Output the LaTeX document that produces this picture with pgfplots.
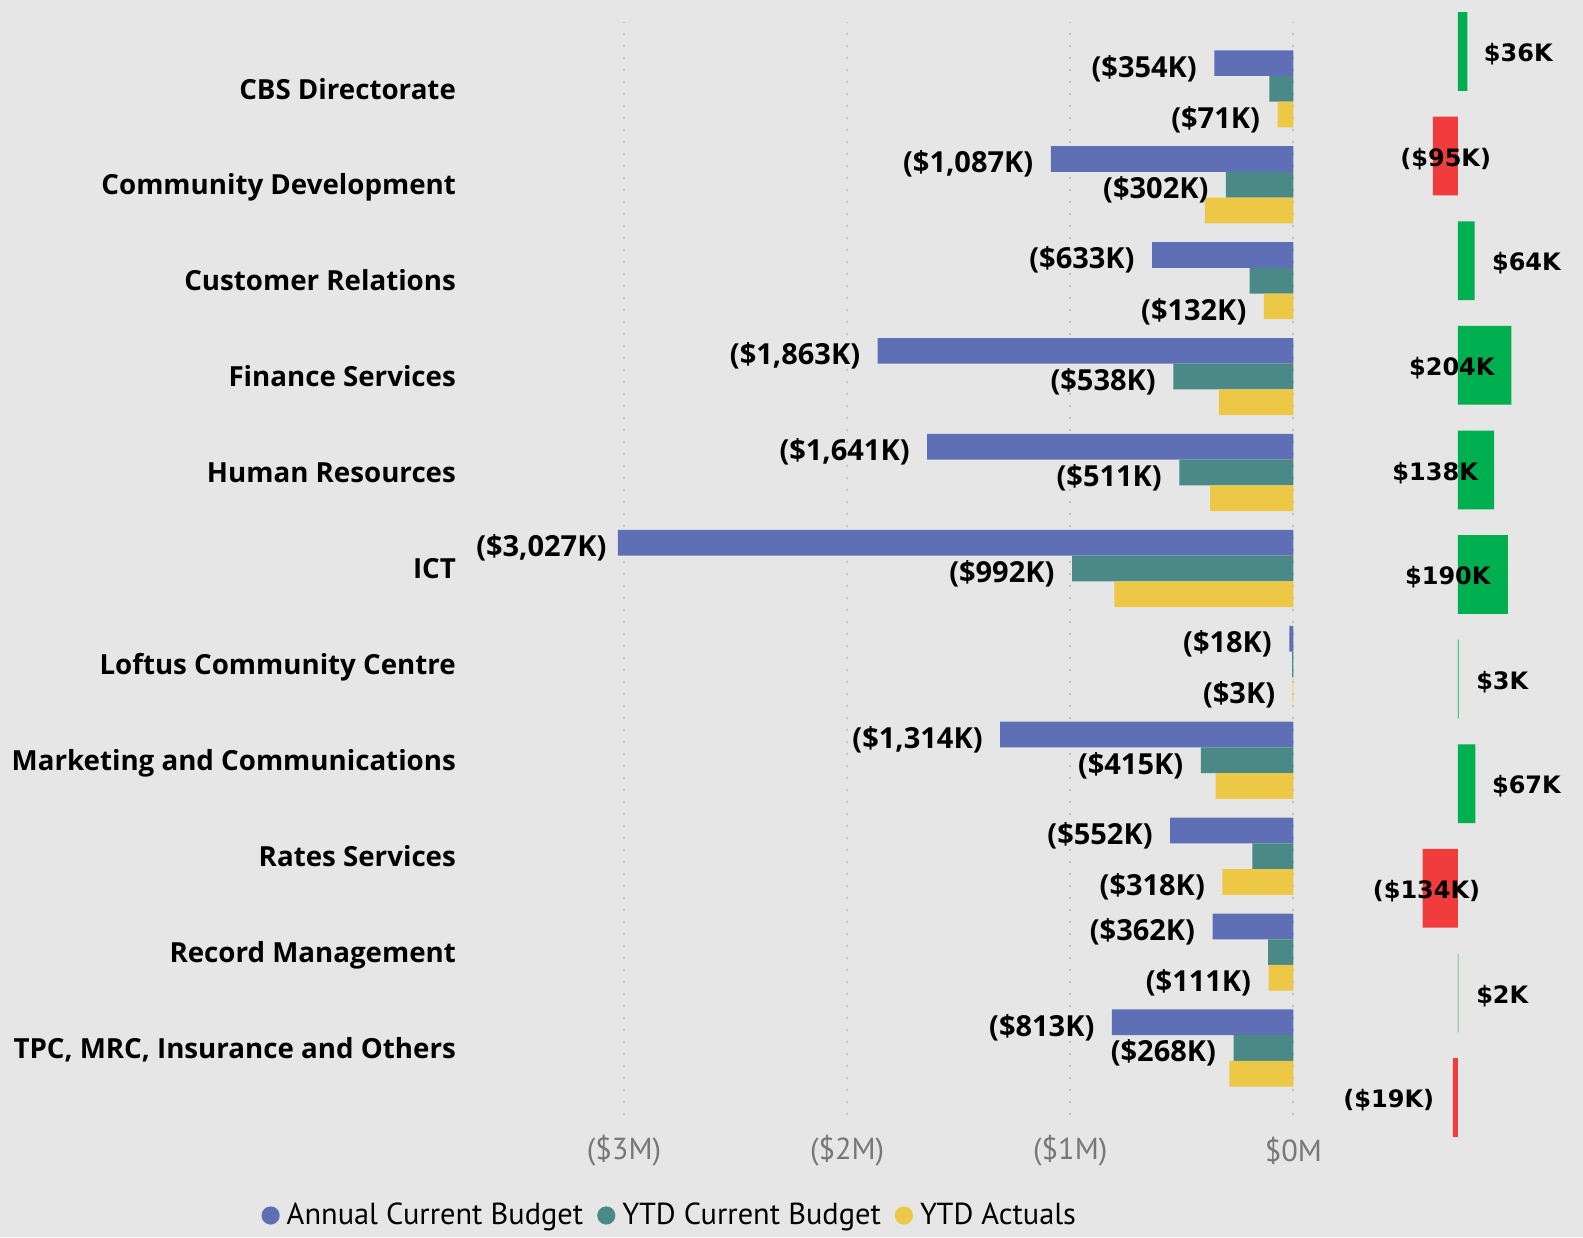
\documentclass[border=0pt]{standalone}
\usepackage{fontspec}
\setmainfont{Open Sans}
\newfontfamily\dejavu{DejaVu Sans}
\newfontfamily\ptsans{PT Sans}
\usepackage{pgfplots}
\pgfplotsset{compat=1.18}
\definecolor{bgc}{HTML}{E6E6E6}
\definecolor{cblue}{HTML}{5F6FB5}
\definecolor{cteal}{HTML}{4A8985}
\definecolor{cyel}{HTML}{ECC846}
\definecolor{cgreen}{HTML}{00B050}
\definecolor{cred}{HTML}{F03C3C}
\definecolor{tickc}{HTML}{777777}
\definecolor{gridc}{HTML}{C4C4C4}
\begin{document}
\begin{tikzpicture}
\fill[bgc] (0,0) rectangle (791.5pt,618.5pt);
\begin{axis}[
  at={(233.9pt,60.9pt)}, anchor=south west,
  scale only axis, width=418.35pt, height=546.75pt,
  xbar, bar width=0.268,
  xmin=-3.7, xmax=0.05, ymin=-0.7, ymax=10.7,
  xtick={-3,-2,-1,0}, xticklabels={(\$3M),(\$2M),(\$1M),\$0M},
  ytick={0,...,10},
  yticklabels={{TPC, MRC, Insurance and Others},Record Management,Rates Services,Marketing and Communications,Loftus Community Centre,ICT,Human Resources,Finance Services,Customer Relations,Community Development,CBS Directorate},
  axis line style={draw=none}, major tick length=0pt,
  xmajorgrids, grid style={gridc, line width=1pt, dash pattern=on 1pt off 5pt},
  yticklabel style={anchor=base east, inner sep=0pt, xshift=-5.75pt, yshift=-5.1pt, font=\fontsize{13.85}{16}\selectfont\bfseries},
  xticklabel style={anchor=center, inner sep=0pt, yshift=-17.9pt, font=\ptsans\fontsize{15.2}{17}\selectfont, text=tickc},
  legend style={at={(rel axis cs:-0.247,-0.0917)}, anchor=west, draw=none, fill=none, inner sep=0pt,
    legend columns=-1, font=\ptsans\fontsize{15.2}{17}\selectfont,
    /tikz/every even column/.append style={column sep=5pt},
    /tikz/every odd column/.append style={column sep=1.5pt}},
  legend cell align=left,
  clip=false,
]
\addplot[fill=cblue, draw=none, bar shift=0.268, legend image code/.code={\fill[cblue] (0pt,0pt) circle (4.55pt);}] coordinates {
(-0.354,10) (-1.087,9) (-0.633,8) (-1.863,7) (-1.641,6) (-3.027,5) (-0.018,4) (-1.314,3) (-0.552,2) (-0.362,1) (-0.813,0)};
\addlegendentry{Annual Current Budget}
\addplot[fill=cteal, draw=none, bar shift=0, legend image code/.code={\fill[cteal] (0pt,0pt) circle (4.55pt);}] coordinates {
(-0.107,10) (-0.302,9) (-0.196,8) (-0.538,7) (-0.511,6) (-0.992,5) (-0.006,4) (-0.415,3) (-0.184,2) (-0.113,1) (-0.268,0)};
\addlegendentry{YTD Current Budget}
\addplot[fill=cyel, draw=none, bar shift=-0.268, legend image code/.code={\fill[cyel] (0pt,0pt) circle (4.55pt);}] coordinates {
(-0.071,10) (-0.397,9) (-0.132,8) (-0.334,7) (-0.373,6) (-0.802,5) (-0.003,4) (-0.348,3) (-0.318,2) (-0.111,1) (-0.287,0)};
\addlegendentry{YTD Actuals}
\begin{scope}[every node/.style={anchor=base east, inner sep=0pt, xshift=-8.6pt, yshift=-6.95pt, font=\fontsize{14.5}{16}\selectfont\bfseries}]
\node at (axis cs:-0.354,10.268) {(\$354K)};
\node at (axis cs:-0.071,9.732) {(\$71K)};
\node at (axis cs:-1.087,9.268) {(\$1,087K)};
\node at (axis cs:-0.302,9) {(\$302K)};
\node at (axis cs:-0.633,8.268) {(\$633K)};
\node at (axis cs:-0.132,7.732) {(\$132K)};
\node at (axis cs:-1.863,7.268) {(\$1,863K)};
\node at (axis cs:-0.538,7) {(\$538K)};
\node at (axis cs:-1.641,6.268) {(\$1,641K)};
\node at (axis cs:-0.511,6) {(\$511K)};
\node[xshift=3pt] at (axis cs:-3.027,5.268) {(\$3,027K)};
\node at (axis cs:-0.992,5) {(\$992K)};
\node at (axis cs:-0.018,4.268) {(\$18K)};
\node at (axis cs:-0.003,3.732) {(\$3K)};
\node at (axis cs:-1.314,3.268) {(\$1,314K)};
\node at (axis cs:-0.415,3) {(\$415K)};
\node at (axis cs:-0.552,2.268) {(\$552K)};
\node at (axis cs:-0.318,1.732) {(\$318K)};
\node at (axis cs:-0.362,1.268) {(\$362K)};
\node at (axis cs:-0.111,0.732) {(\$111K)};
\node at (axis cs:-0.813,0.268) {(\$813K)};
\node at (axis cs:-0.268,0) {(\$268K)};
\end{scope}
\end{axis}
\begin{axis}[
  at={(669.9pt,46.2pt)}, anchor=south west,
  scale only axis, width=118.1pt, height=570.1pt,
  xbar, bar width=0.753, bar shift=0,
  xmin=-0.45, xmax=0.45, ymin=-0.45, ymax=10.45,
  hide axis, clip=false,
]
\addplot[fill=cgreen, draw=none] coordinates {(0.036,10) (0.064,8) (0.204,7) (0.138,6) (0.190,5) (0.003,4) (0.067,3) (0.002,1)};
\addplot[fill=cred, draw=none] coordinates {(-0.095,9) (-0.134,2) (-0.019,0)};
\begin{scope}[every node/.style={anchor=base, inner sep=0pt, yshift=-5.1pt, font=\dejavu\bfseries\fontsize{12}{14}\selectfont}]
\node at (axis cs:0.230,10) {\$36K};
\node at (axis cs:-0.0465,9) {(\$95K)};
\node at (axis cs:0.261,8) {\$64K};
\node at (axis cs:-0.0232,7) {\$204K};
\node at (axis cs:-0.0868,6) {\$138K};
\node at (axis cs:-0.0385,5) {\$190K};
\node at (axis cs:0.169,4) {\$3K};
\node at (axis cs:0.261,3) {\$67K};
\node at (axis cs:-0.1196,2) {(\$134K)};
\node at (axis cs:0.169,1) {\$2K};
\node at (axis cs:-0.2636,0) {(\$19K)};
\end{scope}
\end{axis}
\end{tikzpicture}
\end{document}
